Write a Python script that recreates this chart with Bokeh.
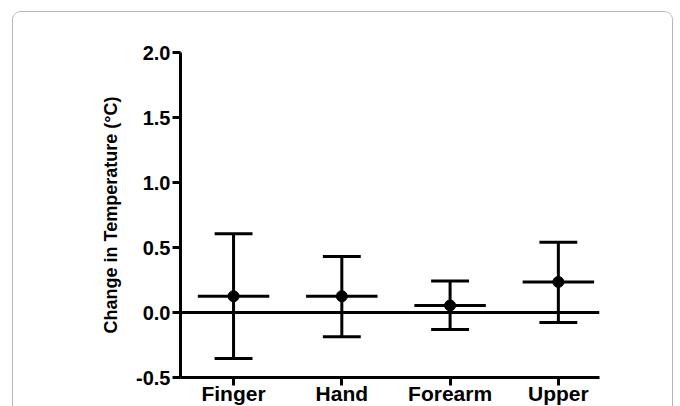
from bokeh.plotting import figure
from bokeh.models import FixedTicker, Span, Range1d, ColumnDataSource, NumeralTickFormatter
from bokeh.embed import file_html
from bokeh.resources import INLINE

sites = ["Finger", "Hand", "Forearm", "Upper"]
means = [0.125, 0.125, 0.054, 0.235]
upper_ci = [0.606, 0.43, 0.243, 0.54]
lower_ci = [-0.353, -0.186, -0.13, -0.077]
y_ticks = [-0.5, 0.0, 0.5, 1.0, 1.5, 2.0]

xs = list(range(len(sites)))
mean_half = 0.33
cap_half = 0.175

src = ColumnDataSource(dict(
    x=xs, mean=means, up=upper_ci, lo=lower_ci,
    mx0=[x - mean_half for x in xs], mx1=[x + mean_half for x in xs],
    cx0=[x - cap_half for x in xs], cx1=[x + cap_half for x in xs],
))

FONT = "Liberation Sans"

p = figure(width=661, height=395, output_backend="svg", toolbar_location=None,
           x_range=Range1d(-0.49, 3.38), y_range=Range1d(-0.5, 2.0),
           min_border_left=167, min_border_right=75, min_border_top=40, min_border_bottom=27)
p.margin = (11, 0, 0, 12)
p.styles = {"border": "1.5px solid #b4b4b4", "border-bottom": "none",
            "border-radius": "9px 9px 0 0", "box-sizing": "border-box",
            "overflow": "hidden"}
p.outline_line_color = None
p.xgrid.visible = False
p.ygrid.visible = False
p.background_fill_color = "white"
p.border_fill_color = "white"

p.add_layout(Span(location=0, dimension="width", line_color="black", line_width=3))

p.segment(x0="x", y0="lo", x1="x", y1="up", source=src, line_color="black", line_width=3)
p.segment(x0="cx0", y0="up", x1="cx1", y1="up", source=src, line_color="black", line_width=3)
p.segment(x0="cx0", y0="lo", x1="cx1", y1="lo", source=src, line_color="black", line_width=3)
p.segment(x0="mx0", y0="mean", x1="mx1", y1="mean", source=src, line_color="black", line_width=3)
p.scatter(x="x", y="mean", source=src, size=11, color="black")

xa = p.xaxis[0]
xa.ticker = FixedTicker(ticks=xs)
xa.major_label_overrides = {i: s for i, s in enumerate(sites)}
xa.minor_tick_line_color = None
xa.major_tick_in = 0
xa.major_tick_out = 8
xa.axis_line_width = 3
xa.major_tick_line_width = 3
xa.major_label_standoff = -4
xa.major_label_text_font = FONT
xa.major_label_text_font_style = "bold"
xa.major_label_text_font_size = "21px"
xa.major_label_text_color = "black"

ya = p.yaxis[0]
ya.ticker = FixedTicker(ticks=y_ticks)
ya.formatter = NumeralTickFormatter(format="0.0")
ya.minor_tick_line_color = None
ya.major_tick_in = 0
ya.major_tick_out = 8
ya.axis_line_width = 3
ya.major_tick_line_width = 3
ya.major_label_standoff = 2
ya.major_label_text_font = FONT
ya.major_label_text_font_style = "bold"
ya.major_label_text_font_size = "20px"
ya.major_label_text_color = "black"
ya.axis_label = "Change in Temperature (°C)"
ya.axis_label_text_font = FONT
ya.axis_label_text_font_style = "bold"
ya.axis_label_text_font_size = "18px"
ya.axis_label_text_color = "black"
ya.axis_label_standoff = 12

open("out.html", "w").write(file_html(p, INLINE))
